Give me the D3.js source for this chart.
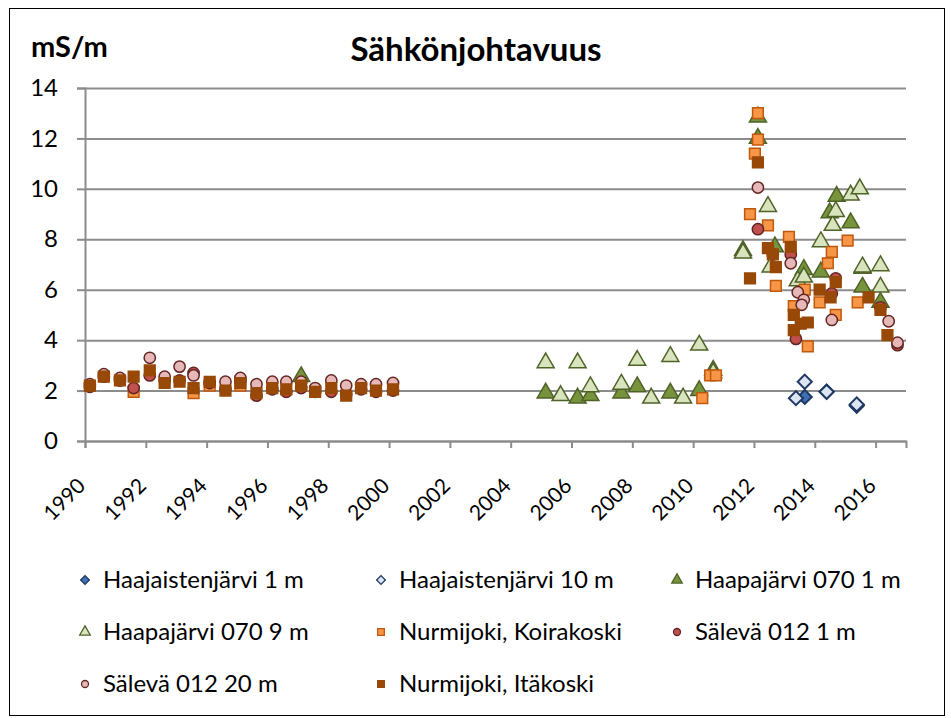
<!DOCTYPE html>
<html>
<head>
<meta charset="utf-8">
<script src="https://cdn.jsdelivr.net/npm/d3@7"></script>
<style>
  body { margin: 0; background: #fff; }
  text { font-family: Lato, "Noto Sans", sans-serif; }
</style>
</head>
<body>
<div id="chart"><svg width="951" height="718"></svg></div>
<script>

// values as [year, mS/m]
const haajaisten1 = [[2013.67, 1.75], [2014.39, 1.95], [2015.38, 1.4]]
const haajaisten10 = [[2013.38, 1.7], [2013.67, 2.35], [2014.39, 1.95], [2015.38, 1.45]]

const haapa1 = [
    [1997.11, 2.55],
    [2005.15, 1.9], [2006.2, 1.7], [2006.62, 1.8], [2007.64, 1.9], [2008.16, 2.15],
    [2009.25, 1.9], [2010.2, 2.0], [2010.66, 2.8],
    [2011.64, 7.55], [2012.13, 12.85], [2012.13, 12.0], [2012.69, 7.7], [2013.64, 6.8],
    [2014.2, 6.7], [2014.49, 9.05], [2014.72, 9.7], [2015.18, 8.65], [2015.57, 6.85],
    [2015.57, 6.1], [2016.16, 5.5]
]
const haapa9 = [
    [2005.15, 3.1], [2005.64, 1.8], [2006.2, 3.1], [2006.62, 2.15], [2007.64, 2.25],
    [2008.16, 3.2], [2008.62, 1.7], [2009.25, 3.35], [2009.67, 1.7], [2010.2, 3.8],
    [2010.66, 2.7],
    [2011.64, 7.45], [2012.46, 9.3], [2012.55, 6.9], [2013.44, 6.35], [2013.64, 6.5],
    [2014.2, 7.9], [2014.59, 8.55], [2014.69, 9.1], [2015.18, 9.75], [2015.48, 10.0],
    [2015.57, 6.9], [2016.16, 6.95], [2016.16, 6.1]
]
const koirakoski = [
    [1991.6, 1.95], [1993.57, 1.9], [1994.1, 2.2], [1995.11, 2.2],
    [2010.3, 1.7], [2010.56, 2.6], [2010.75, 2.6],
    [2011.87, 9.0], [2012.03, 11.4], [2012.13, 13.0], [2012.13, 11.95], [2012.46, 8.55],
    [2012.72, 6.15], [2013.15, 8.1], [2013.31, 5.35], [2013.67, 6.0], [2013.77, 3.75],
    [2014.16, 5.5], [2014.43, 7.05], [2014.56, 7.5], [2014.69, 5.0], [2015.08, 7.95],
    [2015.41, 5.5]
]
const saleva1 = [
    [1990.16, 2.15], [1990.62, 2.55], [1991.15, 2.4], [1991.6, 2.1], [1992.13, 2.6],
    [1992.62, 2.4], [1993.11, 2.4], [1993.57, 2.7], [1994.1, 2.3], [1994.62, 2.05],
    [1995.11, 2.4], [1995.64, 1.8], [1996.16, 2.05], [1996.62, 1.95], [1997.11, 2.1],
    [1997.57, 1.95], [1998.1, 1.95], [1998.59, 1.85], [1999.08, 2.05], [1999.57, 1.95],
    [2000.13, 2.0],
    [2012.13, 8.4], [2012.62, 7.4], [2013.21, 7.4], [2013.38, 4.05], [2014.56, 5.85],
    [2014.69, 6.45], [2016.16, 5.3], [2016.72, 3.8]
]
const saleva20 = [
    [1990.16, 2.25], [1990.62, 2.65], [1991.15, 2.5], [1992.13, 3.3], [1992.62, 2.55],
    [1993.11, 2.95], [1993.57, 2.6], [1994.62, 2.35], [1995.11, 2.5], [1995.64, 2.25],
    [1996.16, 2.35], [1996.62, 2.35], [1997.11, 2.35], [1997.57, 2.1], [1998.1, 2.4],
    [1998.59, 2.2], [1999.08, 2.25], [1999.57, 2.25], [2000.13, 2.3],
    [2012.13, 10.05], [2013.21, 7.05], [2013.44, 5.9], [2013.64, 5.6], [2013.57, 5.4],
    [2014.56, 4.8], [2016.43, 4.75], [2016.72, 3.9]
]
const itakoski = [
    [1990.16, 2.2], [1990.62, 2.55], [1991.15, 2.4], [1991.6, 2.55], [1992.13, 2.8],
    [1992.62, 2.3], [1993.11, 2.35], [1993.57, 2.1], [1994.1, 2.35], [1994.62, 2.0],
    [1995.11, 2.3], [1995.64, 1.9], [1996.16, 2.1], [1996.62, 2.05], [1997.11, 2.2],
    [1997.57, 1.95], [1998.1, 2.1], [1998.59, 1.8], [1999.08, 2.1], [1999.57, 2.0],
    [2000.13, 2.05],
    [2011.87, 6.45], [2012.13, 11.05], [2012.46, 7.65], [2012.62, 7.4], [2012.72, 6.9],
    [2013.21, 7.7], [2013.31, 5.0], [2013.31, 4.4], [2013.54, 4.65], [2013.77, 4.7],
    [2014.16, 6.0], [2014.52, 5.7], [2014.69, 6.3], [2015.77, 5.7], [2016.16, 5.2],
    [2016.39, 4.2]
]

const seriesNames = ["Haajaistenjärvi 1 m", "Haajaistenjärvi 10 m", "Haapajärvi 070 1 m",
    "Haapajärvi 070 9 m", "Nurmijoki, Koirakoski", "Sälevä 012 1 m", "Sälevä 012 20 m",
    "Nurmijoki, Itäkoski"]
const seriesValues = [haajaisten1, haajaisten10, haapa1, haapa9, koirakoski, saleva1, saleva20, itakoski]

const yTicks = [0, 2, 4, 6, 8, 10, 12, 14]
const xTicks = d3.range(1990, 2017, 2)

const titleText = "Sähkönjohtavuus"
const unitText = "mS/m"


/**********************
***** BASIC SETUP *****
**********************/

const svg = d3.select("#chart").select("svg")
const margin = {top: 88, left: 85, right: 44, bottom: 277}
const width = 951
const height = 718

// marker look per series (same order as names)
const styles = [
    {shape: "diamond", fill: "#3f6fb0", stroke: "#1f3864"},
    {shape: "diamond", fill: "#dce6f2", stroke: "#1f3864"},
    {shape: "triangle", fill: "#77933c", stroke: "#4f6228"},
    {shape: "triangle", fill: "#d7e4bd", stroke: "#4f6228"},
    {shape: "square", fill: "#f79646", stroke: "#c0580c"},
    {shape: "circle", fill: "#c0504d", stroke: "#632523"},
    {shape: "circle", fill: "#e6b9b8", stroke: "#632523"},
    {shape: "square", fill: "#984807", stroke: "#984807"}
]

function markerPath(shape, k) {
    if (shape === "diamond") return d3.symbol(d3.symbolSquare, 100 * k * k)()
    if (shape === "triangle") return d3.symbol(d3.symbolTriangle, 125 * k * k)()
    if (shape === "square") return d3.symbol(d3.symbolSquare, 115 * k * k)()
    return d3.symbol(d3.symbolCircle, 100 * k * k)()
}


/***********************
***** X & Y SCALES *****
***********************/

const xScale = d3.scaleLinear()
    .domain([1990, 2017])
    .range([margin.left, width - margin.right - 1])

const yScale = d3.scaleLinear()
    .domain([0, 14])
    .range([height - margin.bottom, margin.top])


/****************************
***** GRIDLINES & AXES *****
****************************/

svg.append("rect")
    .attr("x", 9.5).attr("y", 8.5)
    .attr("width", 935).attr("height", 707)
    .attr("fill", "none")
    .attr("stroke", "#000")
    .attr("stroke-width", 1)

svg.append("g")
    .attr("class", "yGrid")
    .attr("transform", "translate(" + margin.left + ",0)")
    .call(d3.axisLeft(yScale)
        .tickValues(yTicks)
        .tickSize(-(xScale.range()[1] - margin.left))
        .tickFormat(""))
    .call(g => g.select(".domain").remove())
    .selectAll("line")
    .attr("stroke", "#8c8c8c")
    .attr("stroke-width", 2)

svg.append("g")
    .attr("class", "yAxis")
    .attr("transform", "translate(" + margin.left + ",0)")
    .call(d3.axisLeft(yScale)
        .tickValues(yTicks)
        .tickSize(8)
        .tickPadding(19))
    .call(g => g.select(".domain").attr("stroke", "#8c8c8c").attr("stroke-width", 2))
    .call(g => g.selectAll("line").attr("stroke", "#8c8c8c").attr("stroke-width", 2))
    .selectAll("text")
    .style("font-size", "24px")
    .style("fill", "#000")

svg.append("g")
    .attr("class", "xAxis")
    .attr("transform", "translate(0," + yScale(0) + ")")
    .call(d3.axisBottom(xScale)
        .tickValues(xTicks)
        .tickSize(7)
        .tickFormat(d3.format("d")))
    .call(g => g.select(".domain").attr("stroke", "#8c8c8c").attr("stroke-width", 2))
    .call(g => g.selectAll("line").attr("stroke", "#8c8c8c").attr("stroke-width", 2))
    .selectAll("text")
    .attr("transform", "translate(-4,41) rotate(-45)")
    .attr("dy", "0.35em")
    .attr("y", 0)
    .style("text-anchor", "end")
    .style("font-size", "21px")
    .style("fill", "#000")


/******************
***** MARKERS *****
******************/

for (let i = 0; i < seriesValues.length; i++) {
    const st = styles[i]
    svg.append("g")
        .attr("class", "series" + i)
        .selectAll("path")
        .data(seriesValues[i])
        .join("path")
        .attr("d", markerPath(st.shape, 1))
        .attr("transform", d => "translate(" + xScale(d[0]) + "," + yScale(d[1]) + ")" +
            (st.shape === "diamond" ? " rotate(45)" : ""))
        .attr("fill", st.fill)
        .attr("stroke", st.stroke)
        .attr("stroke-width", st.shape === "diamond" ? 2 : 1.5)
}


/*************************
***** TITLE & LEGEND *****
*************************/

svg.append("text")
    .attr("x", 476)
    .attr("y", 61)
    .attr("text-anchor", "middle")
    .style("font-size", "33px")
    .style("font-weight", "bold")
    .text(titleText)

svg.append("text")
    .attr("x", 31)
    .attr("y", 57)
    .style("font-size", "29px")
    .style("font-weight", "bold")
    .text(unitText)

const legendCols = [85, 381, 677]
const legendRows = [580, 632, 684]

const legend = svg.append("g").attr("class", "legend")
seriesNames.forEach(function(name, i) {
    const lx = legendCols[i % 3]
    const ly = legendRows[Math.floor(i / 3)]
    const st = styles[i]
    legend.append("path")
        .attr("d", markerPath(st.shape, 0.62))
        .attr("transform", "translate(" + lx + "," + ly + ")" + (st.shape === "diamond" ? " rotate(45)" : ""))
        .attr("fill", st.fill)
        .attr("stroke", st.stroke)
        .attr("stroke-width", 1.3)
    legend.append("text")
        .attr("x", lx + 18)
        .attr("y", ly)
        .attr("dy", "0.35em")
        .style("font-size", "24px")
        .text(name)
})

</script>
</body>
</html>
